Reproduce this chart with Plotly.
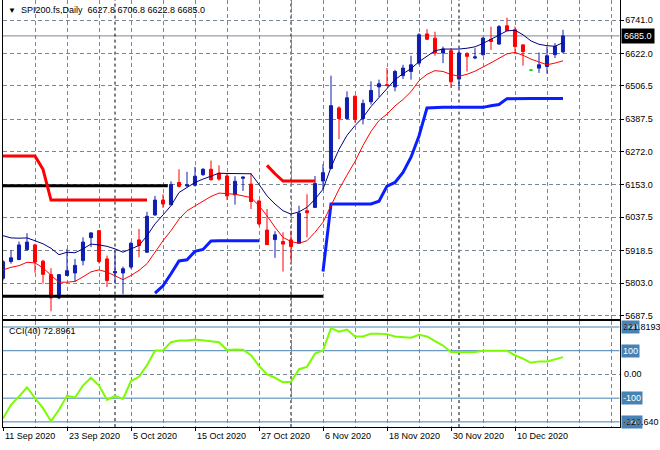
import plotly.graph_objects as go

W, H = 660, 450

# ---------------- data ----------------
bar_idx = list(range(71))

open_ = [5820, 5880, 5887, 5922, 5939, 5881, 5833, 5750, 5830, 5839,
         5883, 5965, 5990, 5889, 5839, 5839, 5860, 5957, 5913, 6046,
         6099, 6082, 6162, 6150, 6152, 6190, 6209, 6195, 6185, 6118,
         6177, 6156, 6096, 5992, 5958, 5951, 5957, 5945, 6061, 6073,
         6167, 6212, 6428, 6390, 6470, 6390, 6450, 6503, 6511, 6503,
         6543, 6558, 6588, 6692, 6677, 6624, 6632, 6531, 6621, 6606,
         6618, 6673, 6656, 6721, 6707, 6653, 6563, 6570, 6576, 6618,
         6627.8]
high = [5885, 5919, 5951, 5981, 5943, 5886, 5856, 5835, 5925, 5889,
        5966, 5984, 5992, 5901, 5919, 5862, 5950, 5996, 6057, 6114,
        6120, 6166, 6209, 6200, 6218, 6213, 6240, 6223, 6195, 6184,
        6183, 6195, 6099, 6067, 5988, 5984, 5990, 6079, 6120, 6185,
        6227, 6543, 6434, 6487, 6472, 6458, 6523, 6529, 6570, 6564,
        6582, 6614, 6695, 6709, 6700, 6647, 6641, 6635, 6627, 6641,
        6681, 6718, 6724, 6750, 6718, 6653, 6565, 6626, 6647, 6659,
        6706.8]
low = [5812, 5872, 5884, 5919, 5840, 5801, 5702, 5745, 5829, 5807,
       5866, 5931, 5872, 5789, 5801, 5763, 5854, 5895, 5911, 6043,
       6071, 6081, 6144, 6145, 6147, 6185, 6168, 6168, 6099, 6083,
       6132, 6067, 6008, 5939, 5893, 5844, 5883, 5944, 5966, 6073,
       6138, 6209, 6316, 6387, 6375, 6369, 6440, 6467, 6505, 6487,
       6531, 6529, 6582, 6671, 6614, 6588, 6499, 6499, 6558, 6602,
       6614, 6635, 6653, 6704, 6629, 6579, 6561, 6553, 6550, 6606,
       6622.8]
close = [5879, 5893, 5939, 5949, 5878, 5834, 5750, 5833, 5847, 5866,
         5949, 5982, 5880, 5812, 5844, 5854, 5945, 5937, 6041, 6099,
         6085, 6155, 6148, 6153, 6184, 6209, 6172, 6174, 6114, 6166,
         6181, 6094, 6014, 5940, 5975, 5942, 5933, 6052, 6054, 6158,
         6197, 6436, 6390, 6464, 6387, 6444, 6490, 6514, 6508, 6558,
         6570, 6582, 6689, 6673, 6624, 6638, 6521, 6624, 6612, 6610,
         6677, 6665, 6718, 6704, 6647, 6629, 6563, 6582, 6614, 6647,
         6685.0]

ma_fast = [5972, 5964, 5963, 5964, 5954, 5943, 5927, 5904, 5913, 5911,
           5925, 5942, 5939, 5934, 5925, 5913, 5925, 5937, 5972, 6014,
           6046, 6079, 6126, 6144, 6162, 6174, 6185, 6195, 6194, 6194,
           6194, 6193, 6155, 6114, 6085, 6061, 6049, 6057, 6073, 6102,
           6138, 6216, 6280, 6330, 6365, 6394, 6433, 6465, 6500, 6529,
           6550, 6568, 6593, 6614, 6632, 6638, 6638, 6638, 6641, 6646,
           6658, 6673, 6690, 6703, 6705, 6689, 6667, 6655, 6650, 6648,
           6661]
ma_slow = [5850, 5859, 5865, 5877, 5875, 5857, 5831, 5806, 5806, 5809,
           5825, 5843, 5850, 5842, 5829, 5815, 5830, 5848, 5872, 5913,
           5954, 5990, 6031, 6061, 6079, 6096, 6112, 6124, 6123, 6120,
           6114, 6108, 6079, 6043, 6002, 5966, 5951, 5945, 5954, 5984,
           6020, 6080, 6138, 6188, 6237, 6294, 6344, 6383, 6406, 6435,
           6458, 6486, 6525, 6548, 6561, 6558, 6547, 6541, 6548, 6559,
           6573, 6589, 6605, 6621, 6626, 6616, 6602, 6591, 6582, 6588,
           6596]
stop_red = [6256, 6256, 6256, 6256, 6256, 6209, 6099, 6099, 6099, 6099,
            6099, 6099, 6099, 6099, 6099, 6099, 6099, 6099, 6099, None,
            None, None, None, None, None, None, None, None, None, None,
            None, None, None, 6223, 6193, 6167, 6167, 6167, 6167, 6167,
            None, None, None, None, None, None, None, None, None, None,
            None, None, None, None, None, None, None, None, None, None,
            None, None, None, None, None, None, None, None, None, None,
            None]
stop_blue = [None, None, None, None, None, None, None, None, None, None,
             None, None, None, None, None, None, None, None, None, 5767,
             5793, 5836, 5882, 5886, 5916, 5923, 5953, 5954, 5954, 5954,
             5954, 5954, 5954, None, None, None, None, None, None, None,
             5844, 6085, 6085, 6085, 6085, 6085, 6085, 6095, 6149, 6162,
             6198, 6252, 6328, 6428, 6430, 6430, 6430, 6430, 6430, 6430,
             6430, 6436, 6440, 6461, 6462, 6462, 6462, 6462, 6462, 6462,
             6462]
cci = [-186, -128, -93, -54, -100, -142, -197, -149, -90, -97,
       -47, -14, -47, -107, -90, -103, -28, -10, 39, 101,
       101, 136, 143, 143, 147, 142, 140, 136, 103, 105,
       104, 81, 36, 0, -14, -33, -31, 22, 32, 88,
       101, 195, 180, 189, 160, 160, 172, 172, 170, 160,
       157, 155, 167, 160, 140, 122, 95, 95, 95, 95,
       100, 100, 100, 100, 81, 67, 49, 55, 55, 64,
       72.8961]

resistance_level = 6150
resistance_bars = [-1, 20.6]
support_level = 5756
support_bars = [-1, 40]

price_ticks = [5687.5, 5803.0, 5918.5, 6037.5, 6153.0, 6272.0, 6387.5, 6506.5, 6622.0, 6741.0]
date_labels = ["11 Sep 2020", "23 Sep 2020", "5 Oct 2020", "15 Oct 2020", "27 Oct 2020",
               "6 Nov 2020", "18 Nov 2020", "30 Nov 2020", "10 Dec 2020"]
date_label_bars = [0, 8, 16, 24, 32, 40, 48, 56, 64]
grid_bars = [0, 4, 8, 12, 16, 20, 24, 28, 32, 36, 40, 44, 48, 52, 56, 60, 64, 68, 72, 76]
month_start_bars = [14, 36, 57]
cci_levels = [200, 100, -100, -200]
cci_level_labels = ["200", "100", "-100", "-200"]
cci_max_label = "221.8193"
cci_min_label = "-220.640"
title_text = "SPI200.fs,Daily\u00a0\u00a06627.8 6706.8 6622.8 6685.0"
cci_title = "CCI(40) 72.8961"

# ---------------- styling / layout ----------------
FONT = "Liberation Sans, Arial, sans-serif"
GRID = "#778899"
BULL = "#0f1fb0"
BEAR = "#ff0000"
DOJI = "#00e000"

px_l, px_r = 2.5, 619.5
main_top, main_bot = 0.0, 320.0
cci_top, cci_bot = 322.5, 429.0

def xp(px):
    return px / W

def yp(py):
    return 1 - py / H

x_range = [(px_l - 3) / 8, (px_r - 3) / 8]
y_main_range = [6813.1 - 3.553 * main_bot, 6813.1 - 3.553 * main_top]
y_cci_range = [-222, 225]

fig = go.Figure()

# candles split into up / down / doji groups
groups = [
    ([i for i in bar_idx if close[i] > open_[i]], BULL),
    ([i for i in bar_idx if close[i] < open_[i]], BEAR),
    ([i for i in bar_idx if close[i] == open_[i]], DOJI),
]
for idx, col in groups:
    if not idx:
        continue
    fig.add_trace(go.Candlestick(
        x=idx,
        open=[open_[i] for i in idx], high=[high[i] for i in idx],
        low=[low[i] for i in idx], close=[close[i] for i in idx],
        increasing=dict(line=dict(color=col, width=1), fillcolor=col),
        decreasing=dict(line=dict(color=col, width=1), fillcolor=col),
        whiskerwidth=0, showlegend=False, hoverinfo="skip",
        xaxis="x", yaxis="y"))

# support / resistance lines
fig.add_trace(go.Scatter(x=resistance_bars, y=[resistance_level] * 2, mode="lines",
                         line=dict(color="black", width=3), showlegend=False, hoverinfo="skip"))
fig.add_trace(go.Scatter(x=support_bars, y=[support_level] * 2, mode="lines",
                         line=dict(color="black", width=3), showlegend=False, hoverinfo="skip"))

# indicator lines
fig.add_trace(go.Scatter(x=bar_idx, y=stop_red, mode="lines", connectgaps=False,
                         line=dict(color="#ff0000", width=3), showlegend=False, hoverinfo="skip"))
fig.add_trace(go.Scatter(x=bar_idx, y=stop_blue, mode="lines", connectgaps=False,
                         line=dict(color="#0a1eff", width=3), showlegend=False, hoverinfo="skip"))
fig.add_trace(go.Scatter(x=bar_idx, y=ma_slow, mode="lines",
                         line=dict(color="#ff0000", width=1), showlegend=False, hoverinfo="skip"))
fig.add_trace(go.Scatter(x=bar_idx, y=ma_fast, mode="lines",
                         line=dict(color="#000080", width=1), showlegend=False, hoverinfo="skip"))

# CCI
fig.add_trace(go.Scatter(x=bar_idx, y=cci, mode="lines", xaxis="x2", yaxis="y2",
                         line=dict(color="#7cfc00", width=2), showlegend=False, hoverinfo="skip"))

shapes = []
# current price line
shapes.append(dict(type="line", xref="x domain", yref="y", x0=0, x1=1,
                   y0=close[-1], y1=close[-1], line=dict(color=GRID, width=1), layer="below"))
# CCI level lines
for lv in cci_levels:
    shapes.append(dict(type="line", xref="x2 domain", yref="y2", x0=0, x1=1, y0=lv, y1=lv,
                       line=dict(color="#4682b4", width=1), layer="below"))
# month separators through both panels
for b in month_start_bars:
    for (yr, lo, hi) in [("y", y_main_range[0], y_main_range[1]), ("y2", y_cci_range[0], y_cci_range[1])]:
        shapes.append(dict(type="line", xref="x" if yr == "y" else "x2", yref=yr, x0=b, x1=b,
                           y0=lo, y1=hi, line=dict(color="black", width=1, dash="3px,3px"),
                           layer="below"))

annotations = []
annotations.append(dict(xref="paper", yref="paper", x=xp(6), y=yp(10.5), xanchor="left",
                        yanchor="middle", showarrow=False,
                        text="<span style='font-size:8px'>\u25bc</span>\u00a0\u00a0" + title_text,
                        font=dict(family=FONT, size=9, color="black")))
annotations.append(dict(xref="paper", yref="y", x=xp(620.5), y=close[-1], xanchor="left",
                        yanchor="middle", showarrow=False, text=f"{close[-1]:.1f}",
                        bgcolor="black", borderpad=2,
                        font=dict(family=FONT, size=9, color="white")))
annotations.append(dict(xref="paper", yref="paper", x=xp(7), y=yp(332), xanchor="left",
                        yanchor="middle", showarrow=False, text=cci_title,
                        font=dict(family=FONT, size=9, color="black")))
for lv, lab in zip(cci_levels, cci_level_labels):
    annotations.append(dict(xref="paper", yref="y2", x=xp(621), y=lv, xanchor="left",
                            yanchor="middle", showarrow=False, text=lab, bgcolor="#4682b4",
                            borderpad=1, font=dict(family=FONT, size=9, color="white")))
annotations.append(dict(xref="paper", yref="y2", x=xp(622), y=0, xanchor="left",
                        yanchor="middle", showarrow=False, text="0.00",
                        font=dict(family=FONT, size=9, color="black")))
annotations.append(dict(xref="paper", yref="y2", x=xp(621), y=cci_levels[0], xanchor="left",
                        yanchor="middle", showarrow=False, text=cci_max_label,
                        font=dict(family=FONT, size=9, color="black")))
annotations.append(dict(xref="paper", yref="y2", x=xp(621), y=cci_levels[-1], xanchor="left",
                        yanchor="middle", showarrow=False, text=cci_min_label,
                        font=dict(family=FONT, size=9, color="black")))
for b, lab in zip(date_label_bars, date_labels):
    annotations.append(dict(xref="x2", yref="paper", x=b, y=yp(437.5), xanchor="left",
                            yanchor="middle", showarrow=False, text=lab, xshift=0,
                            font=dict(family=FONT, size=9, color="black")))

axis_x = dict(showline=True, linecolor="black", linewidth=1, zeroline=False, fixedrange=True)
axis_y = dict(showline=True, linecolor="black", linewidth=1, mirror=True,
              zeroline=False, fixedrange=True)

fig.update_layout(
    width=W, height=H, margin=dict(l=0, r=0, t=0, b=0),
    paper_bgcolor="white", plot_bgcolor="white",
    boxgap=0.45, showlegend=False,
    font=dict(family=FONT, size=9, color="black"),
    xaxis=dict(domain=[xp(px_l), xp(px_r)], range=x_range, anchor="y",
               tickvals=grid_bars, showticklabels=False, ticks="",
               showgrid=True, gridcolor=GRID, griddash="4px,3px", gridwidth=1,
               rangeslider=dict(visible=False), mirror=False, **axis_x),
    yaxis=dict(domain=[yp(main_bot), yp(main_top)], range=y_main_range, anchor="x",
               side="right", tickvals=price_ticks, ticktext=[f"{v:.1f}" for v in price_ticks],
               ticks="outside", ticklen=3, tickcolor="black",
               showgrid=True, gridcolor=GRID, griddash="4px,3px", gridwidth=1,
               tickfont=dict(family=FONT, size=9, color="black"), **axis_y),
    xaxis2=dict(domain=[xp(px_l), xp(px_r)], range=x_range, anchor="y2",
                tickvals=date_label_bars, showticklabels=False, ticks="outside", ticklen=3,
                tickcolor="black", showgrid=True, gridcolor=GRID, griddash="4px,3px",
                minor=dict(tickvals=grid_bars, showgrid=True, gridcolor=GRID,
                           griddash="4px,3px", ticks=""),
                mirror=True, **axis_x),
    yaxis2=dict(domain=[yp(cci_bot), yp(cci_top)], range=y_cci_range, anchor="x2",
                side="right", tickvals=[0], showticklabels=False, ticks="",
                showgrid=True, gridcolor=GRID, griddash="4px,3px", **axis_y),
    shapes=shapes, annotations=annotations,
)

fig.write_html("out.html", config={"displayModeBar": False},
               post_script="document.body.style.margin='0';document.body.style.overflow='hidden';")
